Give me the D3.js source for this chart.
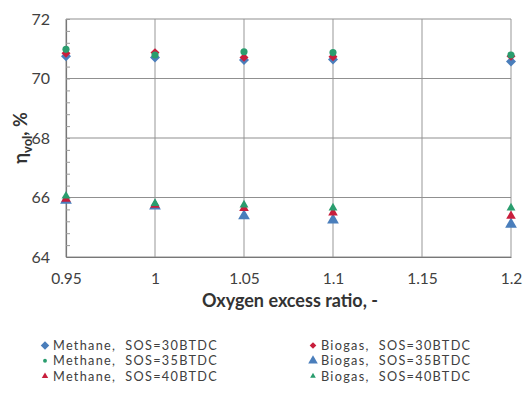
<!DOCTYPE html>
<html><head><meta charset="utf-8">
<script src="https://cdn.jsdelivr.net/npm/d3@7/dist/d3.min.js"></script>
<style>body{margin:0;background:#fff}text{font-family:Lato,"Open Sans",sans-serif}</style>
</head><body><svg id="c" width="524" height="398"></svg>
<script>
const xValues = [0.95, 1.0, 1.05, 1.1, 1.2];
const methane30 = [70.75, 70.71, 70.62, 70.64, 70.57];
const methane35 = [70.98, 70.79, 70.90, 70.87, 70.79];
const methane40 = [65.95, 65.75, 65.64, 65.49, 65.38];
const biogas30 = [70.85, 70.87, 70.71, 70.73, 70.75];
const biogas35 = [65.90, 65.71, 65.38, 65.24, 65.10];
const biogas40 = [66.05, 65.80, 65.75, 65.65, 65.65];
const xTicks = [0.95, 1.0, 1.05, 1.1, 1.15, 1.2];
const yTicks = [64, 66, 68, 70, 72];
const seriesNames = ["Methane,  SOS=30BTDC","Methane,  SOS=35BTDC","Methane,  SOS=40BTDC","Biogas,  SOS=30BTDC","Biogas,  SOS=35BTDC","Biogas,  SOS=40BTDC"];

const blue="#4a7ebb", red="#c81e3c", green="#2a9d6e";
const diamond={draw(ctx,size){const r=Math.sqrt(size/2);ctx.moveTo(0,-r);ctx.lineTo(r,0);ctx.lineTo(0,r);ctx.lineTo(-r,0);ctx.closePath();}};
const series = [
  {name:seriesNames[0], vals:methane30, color:blue, sym:diamond, size:50, lsize:36},
  {name:seriesNames[1], vals:methane35, color:green, sym:d3.symbolCircle, size:40, lsize:12},
  {name:seriesNames[2], vals:methane40, color:red, sym:d3.symbolTriangle, size:40, lsize:18},
  {name:seriesNames[3], vals:biogas30, color:red, sym:diamond, size:40, lsize:22},
  {name:seriesNames[4], vals:biogas35, color:blue, sym:d3.symbolTriangle, size:60, lsize:40},
  {name:seriesNames[5], vals:biogas40, color:green, sym:d3.symbolTriangle, size:34, lsize:14}
];
const drawOrder=[4,2,5,0,3,1];

const svg=d3.select("#c");
const L=66,R=511,T=19,B=257;
const x=d3.scaleLinear().domain([0.95,1.2]).range([L,R]);
const y=d3.scaleLinear().domain([64,72]).range([B,T]);

// grid
const g=svg.append("g");
g.selectAll(".vg").data(xTicks).join("line").attr("x1",d=>x(d)).attr("x2",d=>x(d)).attr("y1",T).attr("y2",B).attr("stroke","#a0a0a0").attr("stroke-width",1.1);
g.selectAll(".hg").data(yTicks).join("line").attr("x1",L).attr("x2",R).attr("y1",d=>y(d)).attr("y2",d=>y(d)).attr("stroke","#909090").attr("stroke-width",1.1);

// y axis with minor inside ticks
const yAxis=d3.axisLeft(y).tickValues(d3.range(64,72.01,0.4)).tickSize(-4).tickFormat("");
svg.append("g").attr("transform",`translate(${L},0)`).call(yAxis).call(a=>{a.select(".domain").attr("stroke","#777").attr("stroke-width",1.2);a.selectAll("line").attr("stroke","#999");});
const yLab=d3.axisLeft(y).tickValues(yTicks).tickSize(0).tickPadding(16).tickFormat(d3.format("d"));
svg.append("g").attr("transform",`translate(${L},0)`).call(yLab).call(a=>{a.select(".domain").remove();a.selectAll("text").attr("font-size",16).attr("fill","#404040").attr("font-family","Lato,sans-serif");});
const xLab=d3.axisBottom(x).tickValues(xTicks).tickSize(0).tickPadding(16).tickFormat(d=>d===1?"1":String(d));
svg.append("g").attr("transform",`translate(0,${B})`).call(xLab).call(a=>{a.select(".domain").attr("stroke","#777").attr("stroke-width",1.2);a.selectAll("text").attr("font-size",15.5).attr("fill","#404040").attr("font-family","Lato,sans-serif");});

// points
drawOrder.forEach(i=>{
  const s=series[i];
  svg.append("g").selectAll("path").data(s.vals).join("path")
    .attr("transform",(d,j)=>`translate(${x(xValues[j])},${y(d)})`)
    .attr("d",d3.symbol(s.sym,s.size)()).attr("fill",s.color);
});

// titles
svg.append("text").attr("x",290).attr("y",307).attr("text-anchor","middle").attr("font-size",18).attr("font-weight","bold").attr("fill","#333").text("Oxygen excess ratio, -");
const yt=svg.append("text").attr("transform","translate(27,138) rotate(-90)").attr("text-anchor","middle").attr("font-size",18).attr("font-weight","bold").attr("fill","#333");
yt.append("tspan").text("η");
yt.append("tspan").attr("font-size",13).attr("dy",5).text("vol");
yt.append("tspan").attr("dy",-5).text(", %");

// legend
const lg=svg.append("g");
series.forEach((s,i)=>{
  const col=i<3?0:1, row=i%3;
  const mx=col?313:45, ty=345.5+row*15.3;
  lg.append("path").attr("transform",`translate(${mx},${ty})`).attr("d",d3.symbol(s.sym,s.lsize)()).attr("fill",s.color);
  lg.append("text").attr("x",mx+8).attr("y",ty).attr("dy","0.35em").attr("font-size",12.7).attr("letter-spacing",1.3).attr("fill","#404040").text(s.name).attr("xml:space","preserve");
});
</script></body></html>
